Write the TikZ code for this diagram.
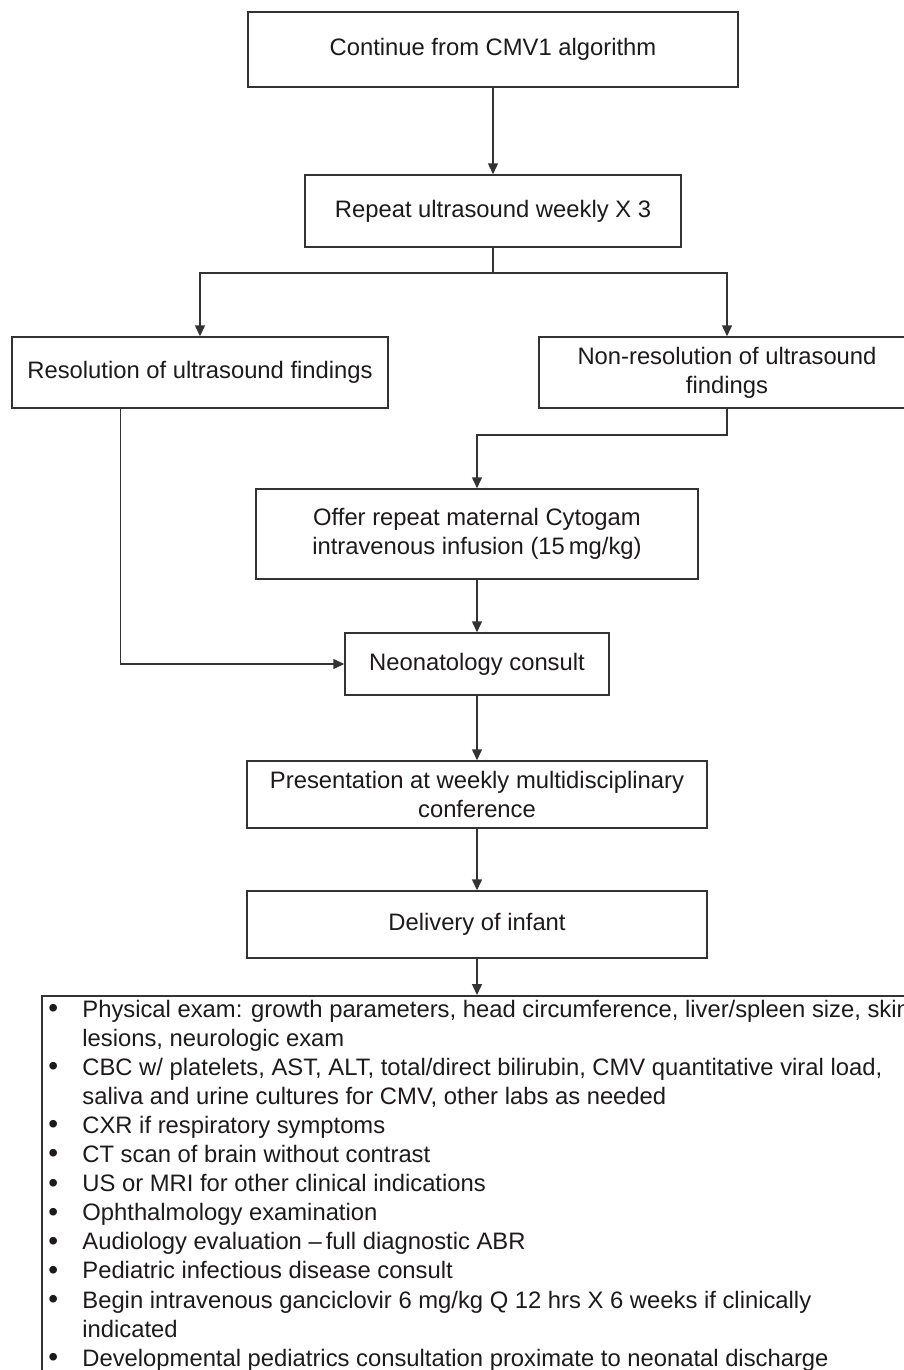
\documentclass[tikz,border=0pt]{standalone}
\usepackage{fontspec}
\setmainfont{Liberation Sans}
\usetikzlibrary{arrows.meta,calc}
\definecolor{ink}{HTML}{1E1A1B}
\definecolor{edge}{HTML}{333333}
\newcommand{\itembul}{\makebox[18pt][l]{\hspace{1pt}\raisebox{-0.2pt}{\fontsize{14}{14}\selectfont •}}}
\begin{document}
\begin{tikzpicture}[x=0.5pt,y=-0.5pt,
  box/.style={draw=edge, line width=0.75pt, text=ink, align=center, inner sep=0pt,
    font=\fontsize{11.9}{14.5}\selectfont},
  arr/.style={draw=edge, line width=0.75pt, -{Triangle[length=5.5pt,width=5pt]}},
  ln/.style={draw=edge, line width=0.75pt}]
\path[use as bounding box] (0,0) rectangle (904,1370);
\clip (0,0) rectangle (904,1370);
\fill[white] (0,0) rectangle (904,1370);

\node[box, minimum width=245pt, minimum height=37.5pt] (b1) at (493,49.5) {Continue from CMV1 algorithm};
\node[box, minimum width=188pt, minimum height=36pt] (b2) at (493,211) {Repeat ultrasound weekly X 3};
\node[box, minimum width=188pt, minimum height=35.5pt] (b3) at (200,372.5) {Resolution of ultrasound findings};
\node[box, minimum width=188pt, minimum height=35.5pt] (b4) at (727,372.5) {Non-resolution of ultrasound\\findings};
\node[box, minimum width=221pt, minimum height=45pt] (b5) at (477,534) {Offer repeat maternal Cytogam\\intravenous infusion (15\,mg/kg)};
\node[box, minimum width=132pt, minimum height=31pt] (b6) at (477,664) {Neonatology consult};
\node[box, minimum width=230pt, minimum height=33.5pt] (b7) at (477,794.5) {Presentation at weekly multidisciplinary\\conference};
\node[box, minimum width=230pt, minimum height=33.5pt] (b8) at (477,924.5) {Delivery of infant};
\node[draw=edge, line width=0.75pt, anchor=north west, inner sep=0pt,
      minimum width=460pt, minimum height=213pt] (b9) at (41,995) {};

\node[anchor=base west, inner sep=0pt, text=ink, font=\fontsize{11.9}{14.55}\selectfont] (items) at (46,1017) {%
\begin{tabular}[t]{@{}l@{}l@{}}
\itembul & Physical exam: growth parameters, head circumference, liver/spleen size, skin\\
 & lesions, neurologic exam\\
\itembul & CBC w/ platelets, AST, ALT, total/direct bilirubin, CMV quantitative viral load,\\
 & saliva and urine cultures for CMV, other labs as needed\\
\itembul & CXR if respiratory symptoms\\
\itembul & CT scan of brain without contrast\\
\itembul & US or MRI for other clinical indications\\
\itembul & Ophthalmology examination\\
\itembul & Audiology evaluation –\,full diagnostic ABR\\
\itembul & Pediatric infectious disease consult\\
\itembul & Begin intravenous ganciclovir 6 mg/kg Q 12 hrs X 6 weeks if clinically\\
 & indicated\\
\itembul & Developmental pediatrics consultation proximate to neonatal discharge
\end{tabular}};

\coordinate (sp) at (493,273);
\coordinate (j2) at (477,435);
\coordinate (r3) at ($(b3.south west)!0.29!(b3.south east)$);

\draw[arr] (b1) -- (b2);
\draw[ln] (b2.south) -- (sp);
\draw[arr] (sp) -| (b3.north);
\draw[arr] (sp) -| (b4.north);
\draw[arr] (b4.south) |- (j2) -- (b5.north);
\draw[arr] (b5) -- (b6);
\draw[arr] (r3) |- (b6.west);
\draw[arr] (b6) -- (b7);
\draw[arr] (b7) -- (b8);
\draw[arr] (b8.south) -- (b8.south |- b9.north);
\end{tikzpicture}
\end{document}
